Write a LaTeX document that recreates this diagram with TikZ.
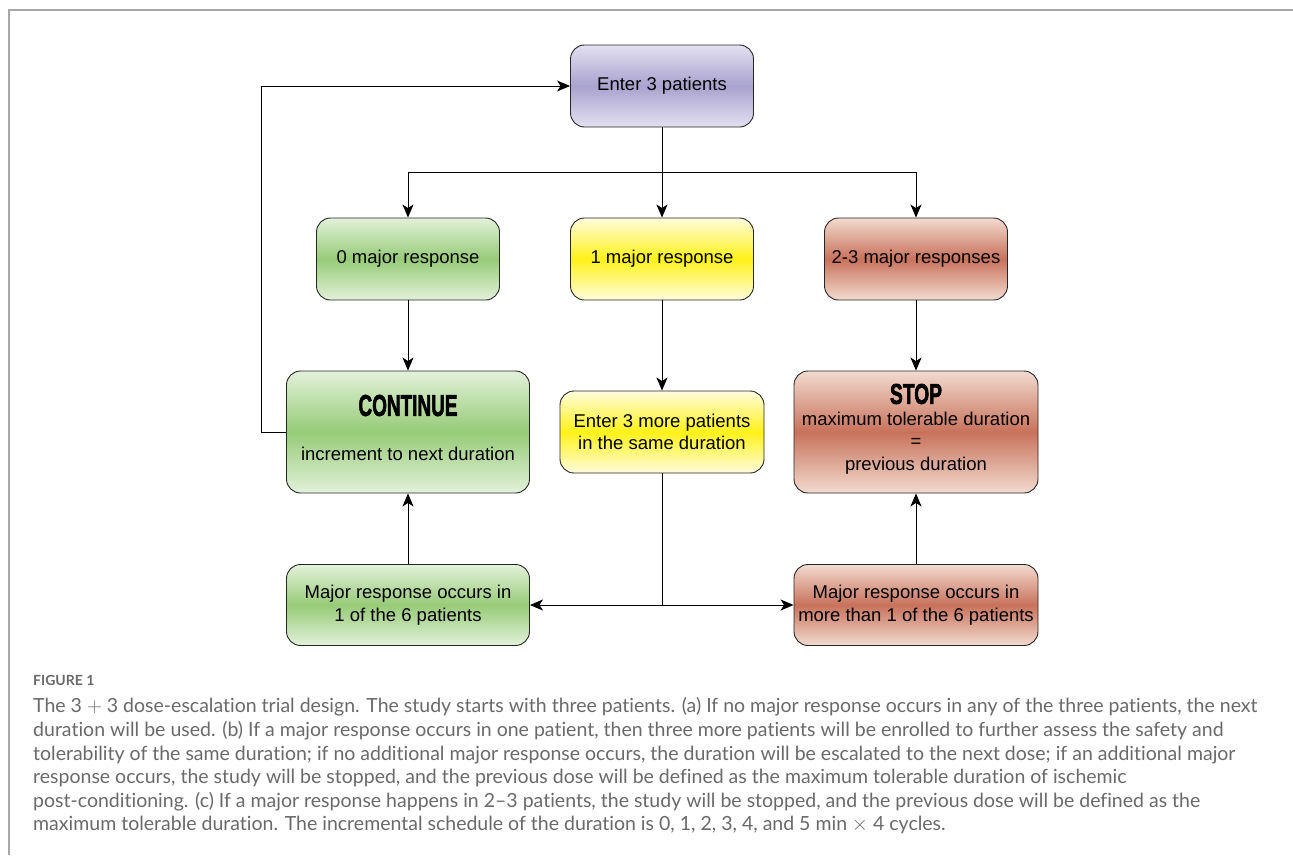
\documentclass[tikz,border=0pt]{standalone}
\usepackage{fontspec}
\setmainfont{Liberation Sans}
\newfontfamily\capfont[Ligatures={NoCommon,TeX}]{Lato}
\newfontfamily\heavyfont[FakeBold=2.5]{Liberation Sans Bold}
\usetikzlibrary{arrows.meta}
\definecolor{frame}{HTML}{A8A8A8}
\definecolor{captxt}{HTML}{6A6A6A}
\definecolor{purT}{HTML}{E3E0F0}
\definecolor{purM}{HTML}{A9A3CF}
\definecolor{grnT}{HTML}{E3F1DA}
\definecolor{grnM}{HTML}{97CB78}
\definecolor{yelT}{HTML}{FFFCDD}
\definecolor{yelM}{HTML}{FFF21A}
\definecolor{redT}{HTML}{F2DBCF}
\definecolor{redM}{HTML}{C8725C}
\begin{document}
\begin{tikzpicture}[x=1pt,y=1pt,
  box/.style={draw=black!85, line width=0.9pt, rounded corners=14pt, align=center,
    font=\fontsize{18.5}{22.5}\selectfont, inner sep=0pt},
  purplebox/.style={box, top color=purT, bottom color=purT, middle color=purM},
  greenbox/.style={box, top color=grnT, bottom color=grnT, middle color=grnM},
  yellowbox/.style={box, top color=yelT, bottom color=yelT, middle color=yelM},
  redbox/.style={box, top color=redT, bottom color=redT, middle color=redM},
  arr/.style={-{Stealth[length=13pt,width=11pt,inset=3.5pt]}, line width=1pt},
  line/.style={line width=1pt},
  big/.style={font=\fontsize{18.5}{22.5}\selectfont}
]
\useasboundingbox (0,0) rectangle (1293,-855);
\fill[white] (0,0) rectangle (1293,-855);
\draw[frame, line width=1.2pt] (9,-855) -- (9,-10) -- (1293,-10);

% boxes
\node[purplebox, minimum width=183pt, minimum height=82pt] (enter) at (662,-86) {Enter 3 patients};
\node[greenbox, minimum width=183pt, minimum height=82pt] (zero) at (408,-259) {0 major response};
\node[yellowbox, minimum width=183pt, minimum height=82pt] (one) at (662,-259) {1 major response};
\node[redbox, minimum width=183pt, minimum height=82pt] (two) at (916,-259) {2-3 major responses};
\node[greenbox, minimum width=243pt, minimum height=122pt] (cont) at (408,-432) {};
\node[yellowbox, minimum width=204pt, minimum height=82pt] (more) at (662,-432) {Enter 3 more patients\\in the same duration};
\node[redbox, minimum width=244pt, minimum height=122pt] (stop) at (916,-432) {};
\node[greenbox, minimum width=243pt, minimum height=81pt] (maj1) at (408,-605) {Major response occurs in\\1 of the 6 patients};
\node[redbox, minimum width=244pt, minimum height=81pt] (majm) at (916,-605) {Major response occurs in\\more than 1 of the 6 patients};

% texts inside CONTINUE and STOP
\node[inner sep=0pt] (conttitle) at (408,-405.5) {\resizebox{99pt}{21pt}{\heavyfont CONTINUE}};
\node[big, inner sep=0pt] (conttext) at (408,-454) {increment to next duration};
\node[inner sep=0pt] (stoptitle) at (916,-394) {\resizebox{52pt}{20pt}{\heavyfont STOP}};
\node[big, inner sep=0pt, align=center] (stoptext) at (916,-443) {maximum tolerable duration\\=\\previous duration};

% connectors
\coordinate (split) at (662,-172);
\draw[line] (enter.south) -- (split);
\draw[arr] (split) -| (zero.north);
\draw[arr] (split) -| (two.north);
\draw[arr] (split) -- (one.north);
\draw[arr] (zero) -- (cont);
\draw[arr] (one) -- (more);
\draw[arr] (two) -- (stop);
\coordinate (fb) at (261,-432);
\draw[arr] (cont.west) -- (fb) |- (enter.west);
\coordinate (mid) at (662,-605);
\draw[line] (more.south) -- (mid);
\draw[arr] (mid) -- (maj1.east);
\draw[arr] (mid) -- (majm.west);
\draw[arr] (maj1) -- (cont);
\draw[arr] (majm) -- (stop);

% caption
\node[anchor=base west, inner sep=0pt, text=captxt, font=\capfont\bfseries\fontsize{14}{16}\selectfont] (figlabel) at (33,-685) {FIGURE 1};
\node[anchor=north west, inner sep=0pt, text=captxt, align=left,
  font=\capfont\fontsize{19.5}{23.6}\selectfont] (caption) at (33,-697.5) {The 3 $+$ 3 dose-escalation trial design. The study starts with three patients. (a) If no major response occurs in any of the three patients, the next\\
duration will be used. (b) If a major response occurs in one patient, then three more patients will be enrolled to further assess the safety and\\
tolerability of the same duration; if no additional major response occurs, the duration will be escalated to the next dose; if an additional major\\
response occurs, the study will be stopped, and the previous dose will be defined as the maximum tolerable duration of ischemic\\
post-conditioning. (c) If a major response happens in 2–3 patients, the study will be stopped, and the previous dose will be defined as the\\
maximum tolerable duration. The incremental schedule of the duration is 0, 1, 2, 3, 4, and 5 min $\times$ 4 cycles.};
\end{tikzpicture}
\end{document}
